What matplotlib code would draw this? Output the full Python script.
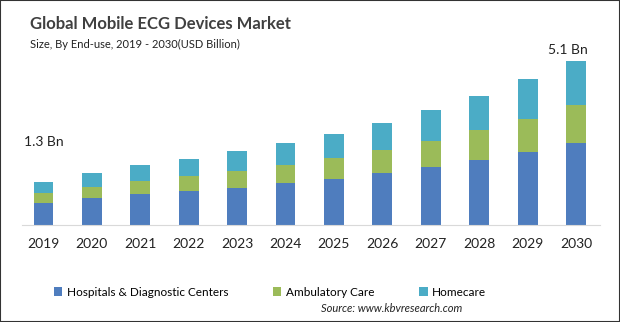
import matplotlib.pyplot as plt
from matplotlib.patches import Rectangle

years = ["2019", "2020", "2021", "2022", "2023", "2024",
         "2025", "2026", "2027", "2028", "2029", "2030"]
hospitals = [0.68, 0.83, 0.95, 1.05, 1.14, 1.29, 1.42, 1.60, 1.78, 2.00, 2.25, 2.52]
ambulatory = [0.31, 0.34, 0.40, 0.46, 0.52, 0.55, 0.65, 0.71, 0.80, 0.92, 1.02, 1.17]
homecare = [0.34, 0.43, 0.49, 0.52, 0.62, 0.68, 0.74, 0.83, 0.95, 1.05, 1.23, 1.35]
series_names = ["Hospitals & Diagnostic Centers", "Ambulatory Care", "Homecare"]
end_labels = {0: "1.3 Bn", 11: "5.1 Bn"}

colors = ["#4F7DBE", "#9BBB59", "#4BACC6"]
W, H = 620, 322

plt.rcParams["font.family"] = ["Lato", "DejaVu Sans"]
fig = plt.figure(figsize=(W / 100, H / 100), dpi=100)
ax = fig.add_axes([22 / W, 97 / H, 578 / W, 185 / H])

x = list(range(len(years)))
bottom = [0] * len(years)
for vals, col, name in zip([hospitals, ambulatory, homecare], colors, series_names):
    ax.bar(x, vals, width=0.41, bottom=bottom, color=col, label=name)
    bottom = [b + v for b, v in zip(bottom, vals)]

ax.set_xlim(-0.444, 11.496)
ax.set_ylim(0, 185 / 32.5)
for s in ["top", "right", "left"]:
    ax.spines[s].set_visible(False)
ax.spines["bottom"].set_color("#D9D9D9")
ax.set_yticks([])
ax.set_xticks(x)
ax.set_xticklabels(years, fontsize=10, color="#222222")
ax.tick_params(axis="x", length=0, pad=9)

offsets = {0: (0, 24), 11: (-6, 4)}
for i, txt in end_labels.items():
    ax.annotate(txt, (i, bottom[i]), textcoords="offset points", xytext=offsets[i],
                ha="center", va="bottom", fontsize=10, color="#222222")

fig.text(30 / W, 1 - 24 / H, "Global Mobile ECG Devices Market", fontsize=12,
         fontweight="bold", color="#404040", va="center")
fig.text(30 / W, 1 - 44 / H, "Size, By End-use, 2019 - 2030(USD Billion)", fontsize=8,
         color="#222222", va="center")

leg = fig.legend(loc="center", bbox_to_anchor=(270 / W, 1 - 292 / H), ncol=3,
                 frameon=False, fontsize=8.5, handlelength=0.7, handleheight=0.7,
                 handletextpad=0.4, columnspacing=3.8)
fig.text(462 / W, 1 - 309 / H, "Source: www.kbvresearch.com", fontsize=8,
         style="italic", color="#222222", ha="right", va="center")

fig.patches.append(Rectangle((0, 0), 1, 1, transform=fig.transFigure, fill=False,
                             edgecolor="#333333", linewidth=1.5))
fig.savefig("out.png", dpi=100)
